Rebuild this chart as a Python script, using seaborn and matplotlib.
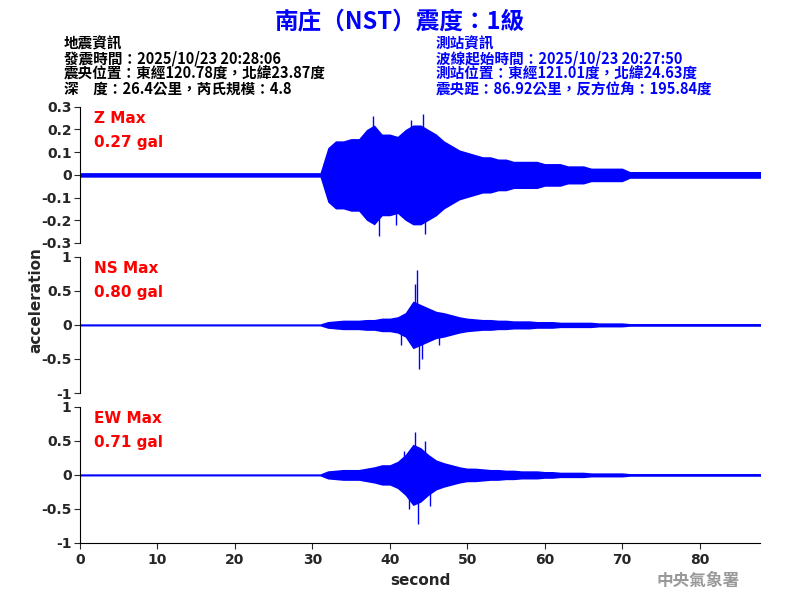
import matplotlib
matplotlib.use("Agg")
import matplotlib.pyplot as plt
import seaborn as sns
import numpy as np

sns.set_style("white")
plt.rcParams['font.family'] = ['Noto Sans CJK TC', 'DejaVu Sans']

seconds = list(range(89))
z_env = [0.01]*32 + [0.12,0.15,0.15,0.16,0.16,0.2,0.22,0.18,0.18,0.17,0.2,0.22,0.22,0.2,0.18,0.15,0.13,0.11,0.1,0.09,0.08,0.08,0.07,0.07,0.06,0.06,0.06,0.06,0.05,0.05,0.05,0.04,0.04,0.04,0.03,0.03,0.03,0.03,0.03] + [0.015]*18
ns_env = [0.015]*32 + [0.05,0.06,0.07,0.07,0.07,0.08,0.08,0.1,0.1,0.12,0.18,0.35,0.3,0.25,0.2,0.18,0.15,0.12,0.1,0.09,0.08,0.08,0.07,0.07,0.06,0.06,0.06,0.05,0.05,0.05,0.04,0.04,0.04,0.04,0.04,0.03,0.03,0.03,0.03] + [0.02]*18
ew_env = [0.015]*32 + [0.06,0.07,0.08,0.08,0.08,0.1,0.12,0.15,0.15,0.2,0.3,0.45,0.4,0.3,0.22,0.18,0.15,0.12,0.1,0.1,0.09,0.08,0.08,0.07,0.07,0.06,0.06,0.06,0.05,0.05,0.04,0.04,0.04,0.04,0.03,0.03,0.03,0.03,0.03] + [0.02]*18

z_spk_t = [37.8,38.6,40.8,42.7,44.3,44.6]; z_spk_v = [0.26,-0.27,-0.22,0.24,0.27,-0.26]
ns_spk_t = [41.5,43.2,43.5,43.8,44.2,46.3]; ns_spk_v = [-0.3,0.6,0.8,-0.65,-0.5,-0.3]
ew_spk_t = [41.8,42.5,43.3,43.6,44.5,45.2]; ew_spk_v = [0.35,-0.5,0.63,-0.72,0.5,-0.45]

panels = [
    ("Z Max", "0.27 gal", z_env, z_spk_t, z_spk_v, 0.3, [0.3,0.2,0.1,0,-0.1,-0.2,-0.3], ["0.3","0.2","0.1","0","-0.1","-0.2","-0.3"]),
    ("NS Max", "0.80 gal", ns_env, ns_spk_t, ns_spk_v, 1.0, [1,0.5,0,-0.5,-1], ["1","0.5","0","-0.5","-1"]),
    ("EW Max", "0.71 gal", ew_env, ew_spk_t, ew_spk_v, 1.0, [1,0.5,0,-0.5,-1], ["1","0.5","0","-0.5","-1"]),
]
bottoms = [0.595, 0.345, 0.095]

fig = plt.figure(figsize=(8,6), dpi=100)
for i,(lab, val, env, st, sv, lim, ticks, tl) in enumerate(panels):
    ax = fig.add_axes([0.1, bottoms[i], 0.85, 0.227])
    e = np.array(env)
    ax.fill_between(seconds, -e, e, color="blue", lw=0)
    sns.lineplot(x=seconds, y=[0]*len(seconds), ax=ax, color="blue", lw=0.8)
    ax.vlines(st, 0, sv, color="blue", lw=1)
    ax.set_xlim(0, 87.8)
    ax.set_ylim(-lim, lim)
    ax.set_yticks(ticks)
    ax.set_yticklabels(tl, fontsize=10, fontweight='bold', family='DejaVu Sans')
    ax.tick_params(axis='y', length=4, left=True, pad=2)
    for s in ["top","right"]:
        ax.spines[s].set_visible(False)
    ax.spines["left"].set_color("black")
    ax.text(0.02, 0.97, lab, transform=ax.transAxes, color="red", fontsize=11, fontweight='bold', va='top', family='DejaVu Sans')
    ax.text(0.02, 0.79, val, transform=ax.transAxes, color="red", fontsize=11, fontweight='bold', va='top', family='DejaVu Sans')
    if i < 2:
        ax.spines["bottom"].set_visible(False)
        ax.set_xticks([])
    else:
        ax.spines["bottom"].set_color("black")
        ax.set_xticks([0,10,20,30,40,50,60,70,80])
        ax.set_xticklabels([str(v) for v in [0,10,20,30,40,50,60,70,80]], fontsize=10, fontweight='bold', family='DejaVu Sans')
        ax.tick_params(axis='x', length=4, bottom=True)
        ax.set_xlabel("second", fontsize=11, fontweight='bold', family='DejaVu Sans')

fig.text(0.045, 0.5, "acceleration", rotation=90, va='center', ha='center', fontsize=11, fontweight='bold', family='DejaVu Sans')
fig.text(0.5, 0.965, "南庄（NST）震度：1級", color="blue", fontsize=17, fontweight='bold', ha='center', va='center')
left = ["地震資訊", "發震時間：2025/10/23 20:28:06", "震央位置：東經120.78度，北緯23.87度", "深　度：26.4公里，芮氏規模：4.8"]
right = ["測站資訊", "波線起始時間：2025/10/23 20:27:50", "測站位置：東經121.01度，北緯24.63度", "震央距：86.92公里，反方位角：195.84度"]
for j,(l,r) in enumerate(zip(left,right)):
    y = 0.928 - j*0.0255
    fig.text(0.08, y, l, fontsize=10.5, fontweight='bold', color='black', va='center')
    fig.text(0.545, y, r, fontsize=10.5, fontweight='bold', color='blue', va='center')
fig.text(0.82, 0.032, "中央氣象署", fontsize=12, fontweight='bold', color='#999999', va='center')
fig.savefig("out.png", dpi=100)
